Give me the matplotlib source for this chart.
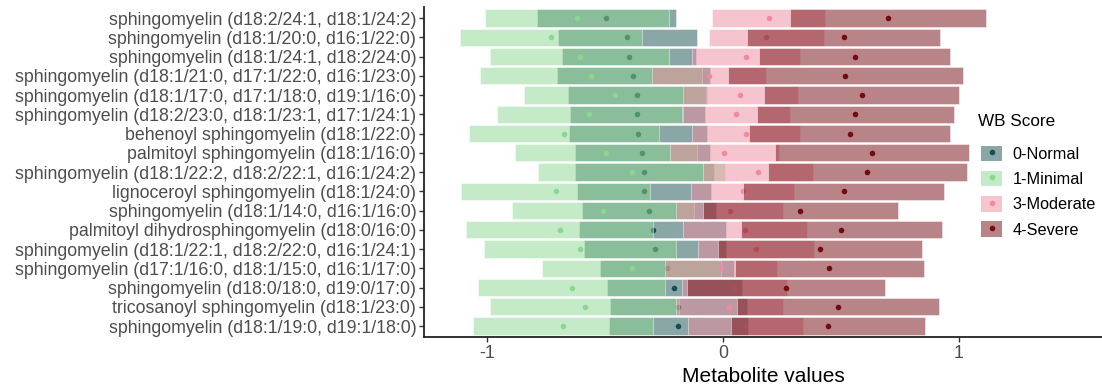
import matplotlib
matplotlib.use("Agg")
import matplotlib.pyplot as plt
import numpy as np
from matplotlib.patches import Patch
from matplotlib.lines import Line2D
from matplotlib.legend_handler import HandlerTuple

metabolites = [
    "sphingomyelin (d18:2/24:1, d18:1/24:2)",
    "sphingomyelin (d18:1/20:0, d16:1/22:0)",
    "sphingomyelin (d18:1/24:1, d18:2/24:0)",
    "sphingomyelin (d18:1/21:0, d17:1/22:0, d16:1/23:0)",
    "sphingomyelin (d18:1/17:0, d17:1/18:0, d19:1/16:0)",
    "sphingomyelin (d18:2/23:0, d18:1/23:1, d17:1/24:1)",
    "behenoyl sphingomyelin (d18:1/22:0)",
    "palmitoyl sphingomyelin (d18:1/16:0)",
    "sphingomyelin (d18:1/22:2, d18:2/22:1, d16:1/24:2)",
    "lignoceroyl sphingomyelin (d18:1/24:0)",
    "sphingomyelin (d18:1/14:0, d16:1/16:0)",
    "palmitoyl dihydrosphingomyelin (d18:0/16:0)",
    "sphingomyelin (d18:1/22:1, d18:2/22:0, d16:1/24:1)",
    "sphingomyelin (d17:1/16:0, d18:1/15:0, d16:1/17:0)",
    "sphingomyelin (d18:0/18:0, d19:0/17:0)",
    "tricosanoyl sphingomyelin (d18:1/23:0)",
    "sphingomyelin (d18:1/19:0, d19:1/18:0)",
]

groups = ["0-Normal", "1-Minimal", "3-Moderate", "4-Severe"]

normal_mean = [-0.494, -0.405, -0.399, -0.380, -0.363, -0.363, -0.360, -0.342, -0.333,
               -0.333, -0.315, -0.298, -0.287, -0.236, -0.207, -0.190, -0.189]
normal_sd = [0.296, 0.293, 0.285, 0.325, 0.295, 0.285, 0.291, 0.287, 0.294,
             0.284, 0.284, 0.311, 0.301, 0.284, 0.286, 0.290, 0.294]

minimal_mean = [-0.618, -0.729, -0.608, -0.559, -0.458, -0.566, -0.674, -0.496, -0.386,
                -0.709, -0.507, -0.692, -0.605, -0.387, -0.641, -0.586, -0.677]
minimal_sd = [0.389, 0.384, 0.379, 0.471, 0.384, 0.393, 0.401, 0.385, 0.396,
              0.400, 0.386, 0.397, 0.406, 0.378, 0.396, 0.401, 0.381]

moderate_mean = [0.193, 0.184, 0.097, -0.059, 0.074, 0.057, 0.097, 0.006, 0.150,
                 0.083, 0.028, 0.094, 0.141, -0.008, 0.049, 0.027, 0.094]
moderate_sd = [0.241, 0.242, 0.230, 0.240, 0.242, 0.228, 0.230, 0.231, 0.233,
               0.219, 0.228, 0.263, 0.245, 0.238, 0.224, 0.226, 0.244]

severe_mean = [0.699, 0.511, 0.558, 0.518, 0.587, 0.560, 0.537, 0.632, 0.612,
               0.511, 0.327, 0.502, 0.410, 0.451, 0.266, 0.487, 0.444]
severe_sd = [0.415, 0.408, 0.404, 0.498, 0.413, 0.417, 0.425, 0.412, 0.423,
             0.425, 0.413, 0.426, 0.432, 0.401, 0.420, 0.429, 0.410]

colors = ["#174e4e", "#8bd791", "#ef8b9f", "#730b11"]
means = [normal_mean, minimal_mean, moderate_mean, severe_mean]
sds = [normal_sd, minimal_sd, moderate_sd, severe_sd]

plt.rcParams['font.family'] = ['Liberation Sans', 'DejaVu Sans']

W, H = 1102, 385
fig = plt.figure(figsize=(W / 100, H / 100), dpi=100)
left_px, right_px, top_px, bot_px = 424, 1102, 6.5, 337
ax = fig.add_axes([left_px / W, 1 - bot_px / H, (right_px - left_px) / W, (bot_px - top_px) / H])

n = len(metabolites)
ypos = np.arange(n)[::-1]

for gi, (m, s, c) in enumerate(zip(means, sds, colors)):
    m = np.array(m)
    s = np.array(s)
    ax.barh(ypos, 2 * s, left=m - s, height=0.9, color=c, alpha=0.5,
            edgecolor=(1, 1, 1, 0.7), linewidth=0.6, zorder=2 + 2 * gi)
    ax.plot(m, ypos, 'o', color=c, markersize=4, markeredgewidth=0, zorder=3 + 2 * gi)

ax.set_xlim(-1.267, 1.606)
ax.set_ylim(-0.57, 16.6)
ax.set_yticks(ypos)
ax.set_yticklabels(metabolites, fontsize=12.8, color="#4d4d4d")
ax.set_xticks([-1, 0, 1])
ax.set_xticklabels(["-1", "0", "1"], fontsize=12.8, color="#4d4d4d")
ax.tick_params(axis='both', length=3.5, width=1.0, color="#333333", pad=2)
for sp in ["top", "right"]:
    ax.spines[sp].set_visible(False)
for sp in ["left", "bottom"]:
    ax.spines[sp].set_linewidth(1.3)
    ax.spines[sp].set_color("#222222")
ax.set_xlabel("Metabolite values", fontsize=15, color="black", labelpad=4)

handles = []
for c in colors:
    p = Patch(facecolor=c, alpha=0.5, edgecolor='none')
    d = Line2D([], [], marker='o', color=c, linestyle='', markersize=4, markeredgewidth=0)
    handles.append((p, d))
leg = ax.legend(handles, groups, handler_map={tuple: HandlerTuple(ndivide=1, pad=0)},
                fontsize=11.7, frameon=False,
                loc="upper left", bbox_to_anchor=(981 / W, 1 - 145.5 / H),
                bbox_transform=fig.transFigure, handlelength=1.3, handleheight=1.1,
                handletextpad=0.65, labelspacing=0.55, borderpad=0, borderaxespad=0)
fig.text(978 / W, 1 - 121.7 / H, "WB Score", fontsize=12.3, va="center", ha="left")

fig.savefig("out.png", dpi=100)
